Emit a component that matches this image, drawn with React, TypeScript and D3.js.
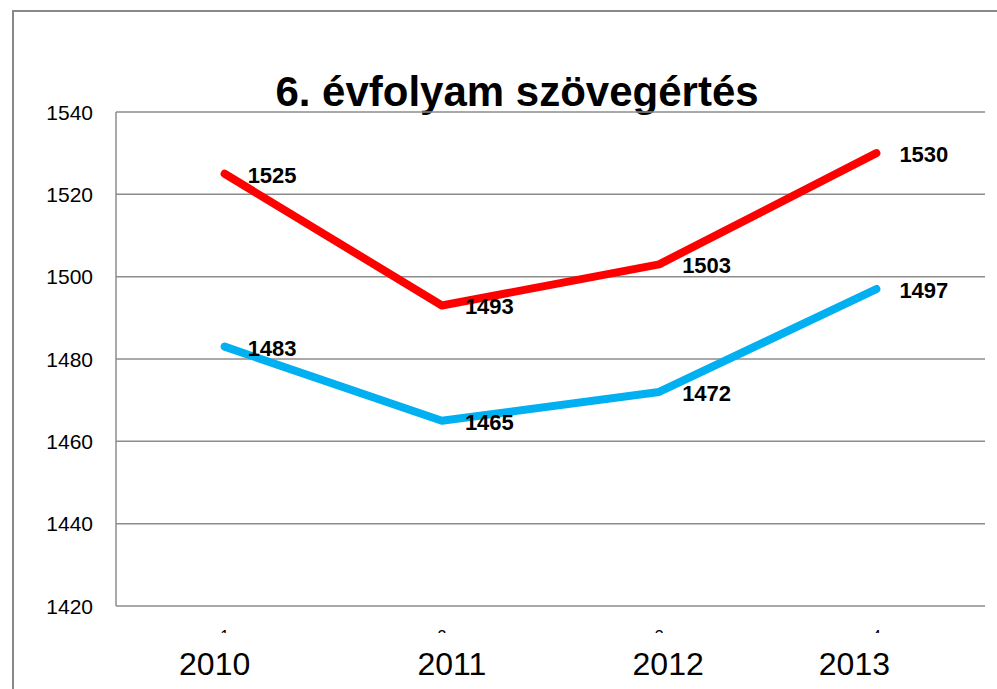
import React from "react";
import * as d3 from "d3";

// chart data
const categories = ["1", "2", "3", "4"];
const yearLabels = ["2010", "2011", "2012", "2013"];
const seriesRed = [1525, 1493, 1503, 1530];
const seriesBlue = [1483, 1465, 1472, 1497];
const yTicks = [1420, 1440, 1460, 1480, 1500, 1520, 1540];
const title = "6. évfolyam szövegértés";

const width = 997;
const height = 689;
const marginLeft = 116; // plot area left
const marginRight = 12; // plot area right (997 - 985)
const plotTop = 112;
const plotBottom = 606;

const gridColor = "#8c8c8c";
const font = "'Liberation Sans', Arial, sans-serif";

function App() {
  const xScale = d3
    .scaleBand<string>()
    .domain(categories)
    .range([marginLeft, width - marginRight]);

  const yScale = d3.scaleLinear().domain([1420, 1540]).range([plotBottom, plotTop]);

  const cx = (i: number) => (xScale(categories[i]) as number) + xScale.bandwidth() / 2;

  const line = d3
    .line<number>()
    .x((d, i) => cx(i))
    .y(d => yScale(d));

  const series = [
    { values: seriesRed, color: "#ff0000" },
    { values: seriesBlue, color: "#00b0f0" },
  ];

  // year text boxes sit a bit off the category centers in the original
  const yearOffsets = [-10, 10, 9, -22];

  return (
    <svg
      width={width}
      height={height}
      viewBox={`0 0 ${width} ${height}`}
      style={{ position: "absolute", left: 0, top: 0, background: "#fff" }}
    >
      {/* outer chart border */}
      <rect x={13} y={11} width={width} height={height} fill="#fff" stroke="#898989" strokeWidth={2} />

      {/* title */}
      <text
        x={517}
        y={106}
        textAnchor="middle"
        fontFamily={font}
        fontWeight="bold"
        fontSize={42}
        fill="#000"
      >
        {title}
      </text>

      {/* horizontal gridlines + y labels */}
      {yTicks.map(t => (
        <g key={t}>
          <line
            x1={marginLeft}
            x2={width - marginRight}
            y1={yScale(t)}
            y2={yScale(t)}
            stroke={gridColor}
            strokeWidth={1.5}
          />
          <text
            x={93}
            y={yScale(t)}
            dy="0.36em"
            textAnchor="end"
            fontFamily={font}
            fontSize={21}
            fill="#000"
          >
            {t}
          </text>
        </g>
      ))}

      {/* value axis line */}
      <line x1={marginLeft} x2={marginLeft} y1={plotTop} y2={plotBottom} stroke={gridColor} strokeWidth={1.5} />

      {/* category labels, mostly covered by the year boxes */}
      {categories.map((c, i) => (
        <text
          key={c}
          x={cx(i)}
          y={642}
          textAnchor="middle"
          fontFamily={font}
          fontSize={16}
          fill="#000"
        >
          {c}
        </text>
      ))}
      <rect x={marginLeft} y={633} width={width - marginLeft - marginRight} height={40} fill="#fff" />

      {yearLabels.map((y, i) => (
        <text
          key={y}
          x={cx(i) + yearOffsets[i]}
          y={675}
          textAnchor="middle"
          fontFamily={font}
          fontSize={32}
          fill="#000"
        >
          {y}
        </text>
      ))}

      {/* lines */}
      {series.map((s, k) => (
        <path
          key={k}
          d={line(s.values) as string}
          fill="none"
          stroke={s.color}
          strokeWidth={8}
          strokeLinecap="round"
          strokeLinejoin="round"
        />
      ))}

      {/* data labels */}
      {series.map((s, k) =>
        s.values.map((v, i) => (
          <text
            key={`${k}-${i}`}
            x={cx(i) + 23}
            y={yScale(v) + 9}
            fontFamily={font}
            fontWeight="bold"
            fontSize={22}
            fill="#000"
          >
            {v}
          </text>
        ))
      )}
    </svg>
  );
}

export default App;
